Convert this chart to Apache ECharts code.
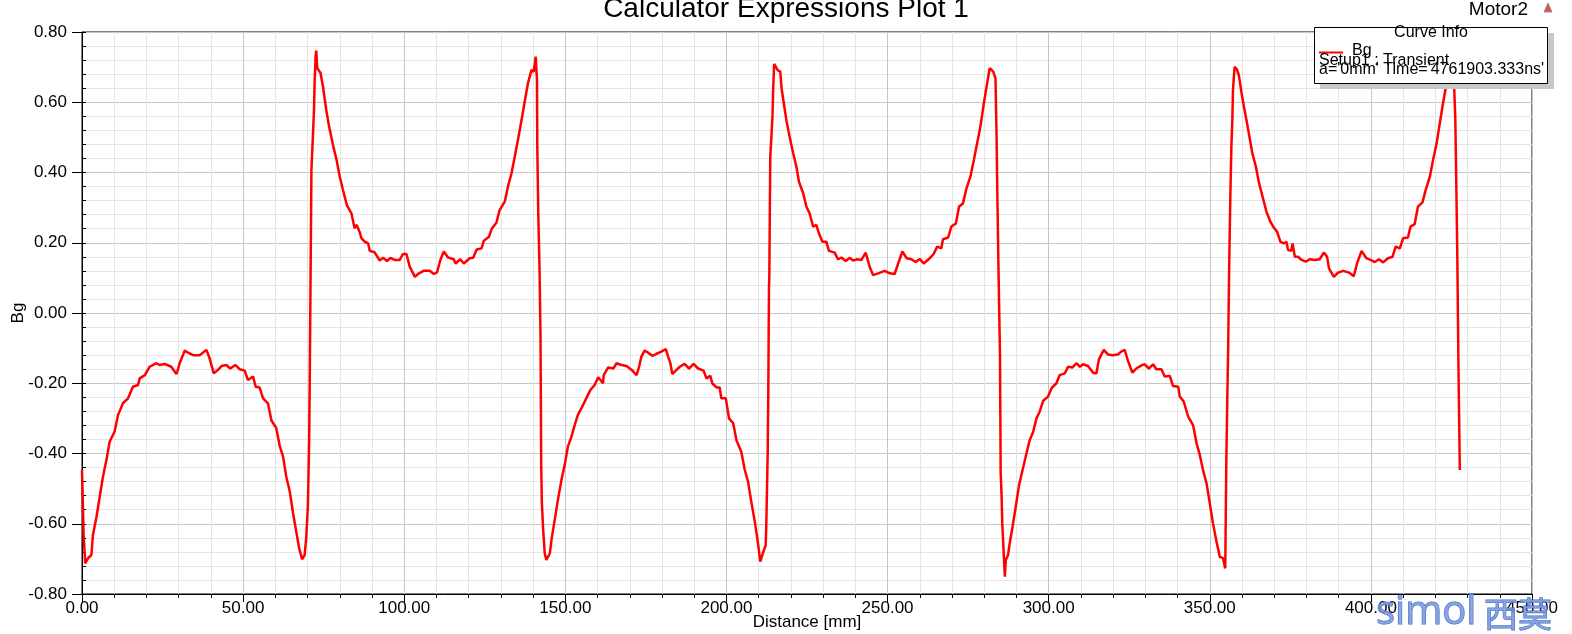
<!DOCTYPE html>
<html>
<head>
<meta charset="utf-8">
<script src="https://cdn.jsdelivr.net/npm/echarts@6/dist/echarts.min.js"></script>
<style>
  html, body { margin: 0; padding: 0; background: #fff; }
  #c { width: 1572px; height: 634px; }
</style>
</head>
<body>
<div id="c"></div>
<script>
// ---- data ----
const distanceMm = [
  0, 0.3, 0.5, 1.0, 1.9, 2.9, 3.4, 4.5, 5.5, 6.5, 7.6, 8.6, 10.1, 11.2, 12.7, 14.3, 15.8, 17.4, 17.9, 19.5,
  21.0, 23.1, 24.1, 25.7, 27.7, 29.3, 29.6, 30.3, 31.9, 32.9, 34.5, 36.5, 38.6, 39.6, 40.9, 42.2, 43.3, 44.8, 46.0, 47.6,
  48.9, 50.5, 51.5, 53.1, 53.9, 55.1, 56.2, 57.7, 58.8, 60.3, 61.4, 62.4, 63.4, 64.5, 65.5, 66.5, 67.4, 68.3, 69.1, 69.6,
  70.1, 70.5, 70.7, 70.9, 71.2, 71.7, 72.0, 72.2, 72.5, 72.7, 73.0, 74.0, 74.8, 75.8, 76.7, 77.9, 79.0, 80.0, 81.0, 82.2,
  83.6, 84.6, 85.2, 86.2, 86.7, 87.7, 88.8, 89.3, 90.8, 92.4, 93.4, 94.7, 95.7, 97.0, 98.6, 99.6, 100.7, 101.7, 103.3, 104.6,
  106.0, 107.9, 109.2, 110.2, 111.2, 112.3, 113.6, 115.4, 115.9, 117.4, 118.5, 120.3, 121.4, 122.5, 124.0, 124.7, 126.3, 127.1, 128.6, 129.6,
  131.2, 132.2, 133.3, 134.3, 135.3, 136.4, 137.4, 138.4, 139.5, 140.2, 140.8, 141.2, 141.3, 141.6, 142.0, 142.3, 142.5, 142.7, 143.1, 143.6,
  144.1, 145.2, 145.7, 146.7, 147.7, 148.8, 149.8, 150.8, 151.9, 152.9, 153.9, 155.0, 156.5, 157.8, 159.1, 160.2, 161.7, 161.9, 163.3, 164.9,
  165.9, 167.4, 169.0, 170.6, 172.1, 172.9, 173.6, 174.6, 175.7, 177.0, 178.3, 179.8, 181.2, 181.9, 182.6, 183.2, 184.5, 185.5, 187.0, 188.4,
  189.8, 191.2, 192.9, 193.8, 195.0, 195.6, 196.9, 197.9, 198.4, 199.8, 200.8, 202.1, 203.1, 204.6, 205.7, 206.7, 207.7, 208.8, 209.8, 210.5,
  211.3, 212.2, 212.4, 212.8, 213.0, 213.2, 213.3, 213.6, 213.9, 214.3, 214.5, 214.8, 215.3, 216.0, 216.7, 217.1, 217.8, 218.6, 219.6, 220.7,
  221.7, 222.5, 223.8, 224.8, 225.8, 226.9, 227.9, 228.7, 229.8, 231.0, 231.8, 233.6, 234.6, 235.7, 237.0, 238.3, 239.3, 240.6, 241.9, 243.2,
  244.5, 245.5, 247.1, 249.1, 250.7, 252.2, 253.3, 254.6, 255.9, 257.4, 258.7, 260.0, 261.2, 263.1, 264.3, 265.4, 266.7, 267.2, 268.8, 269.8,
  271.2, 272.2, 273.4, 274.5, 275.7, 276.8, 277.8, 278.8, 279.8, 280.9, 281.7, 282.8, 283.5, 283.8, 284.1, 284.4, 284.7, 284.9, 285.1, 285.4,
  285.6, 286.0, 286.4, 286.7, 287.4, 287.9, 288.8, 289.8, 290.8, 291.9, 293.1, 294.1, 295.2, 296.2, 297.2, 298.3, 299.8, 300.9, 302.4, 303.4,
  305.0, 306.0, 307.4, 308.6, 309.7, 310.7, 312.2, 313.8, 314.8, 315.6, 317.1, 318.4, 319.9, 321.5, 322.5, 323.6, 324.6, 326.0, 327.2, 328.8,
  329.8, 331.1, 332.4, 333.4, 335.0, 336.0, 337.6, 338.6, 340.2, 340.7, 341.9, 343.3, 344.8, 345.9, 346.9, 347.9, 349.0, 350.0, 351.0, 352.1,
  353.1, 354.1, 354.8, 354.9, 355.1, 355.4, 355.7, 356.0, 356.4, 356.7, 357.0, 357.2, 357.7, 358.4, 359.0, 359.8, 360.5, 361.4, 362.4, 363.2,
  364.3, 365.3, 366.5, 367.6, 368.8, 369.8, 370.9, 371.9, 372.9, 373.8, 374.3, 375.3, 375.7, 376.4, 377.4, 378.5, 379.8, 381.0, 382.6, 384.1,
  385.4, 386.4, 387.0, 388.5, 389.8, 391.4, 393.2, 394.7, 395.7, 397.1, 398.6, 400.2, 401.2, 402.5, 403.8, 405.3, 406.7, 407.7, 409.0, 410.0,
  411.5, 412.3, 413.6, 414.6, 416.0, 417.0, 418.3, 419.3, 420.4, 421.2, 422.3, 423.3, 424.2, 425.0, 425.7, 426.2, 426.5, 426.8, 427.2, 427.6
];
const bgValues = [
  -0.447, -0.555, -0.632, -0.713, -0.698, -0.689, -0.632, -0.580, -0.523, -0.466, -0.418, -0.366, -0.338, -0.290, -0.257, -0.243, -0.210, -0.205, -0.186, -0.177,
  -0.153, -0.143, -0.148, -0.145, -0.153, -0.174, -0.167, -0.143, -0.107, -0.113, -0.120, -0.120, -0.105, -0.129, -0.172, -0.162, -0.151, -0.148, -0.158, -0.148,
  -0.160, -0.164, -0.191, -0.181, -0.210, -0.212, -0.243, -0.257, -0.306, -0.328, -0.380, -0.409, -0.466, -0.509, -0.570, -0.623, -0.670, -0.701, -0.689, -0.637,
  -0.551, -0.362, -0.167, 0.065, 0.407, 0.512, 0.578, 0.659, 0.730, 0.747, 0.697, 0.684, 0.644, 0.578, 0.530, 0.478, 0.436, 0.388, 0.350, 0.307,
  0.284, 0.241, 0.251, 0.230, 0.213, 0.203, 0.198, 0.177, 0.173, 0.149, 0.157, 0.148, 0.157, 0.151, 0.151, 0.168, 0.168, 0.132, 0.103, 0.113,
  0.120, 0.120, 0.111, 0.116, 0.151, 0.175, 0.158, 0.153, 0.141, 0.153, 0.141, 0.156, 0.157, 0.181, 0.184, 0.206, 0.217, 0.239, 0.257, 0.293,
  0.317, 0.360, 0.398, 0.445, 0.493, 0.549, 0.602, 0.654, 0.692, 0.687, 0.730, 0.663, 0.473, 0.284, 0.122, -0.072, -0.423, -0.537, -0.613, -0.684,
  -0.703, -0.684, -0.646, -0.589, -0.532, -0.475, -0.433, -0.380, -0.352, -0.319, -0.290, -0.271, -0.243, -0.219, -0.205, -0.183, -0.200, -0.177, -0.155, -0.158,
  -0.143, -0.148, -0.151, -0.162, -0.177, -0.153, -0.124, -0.107, -0.113, -0.122, -0.116, -0.110, -0.103, -0.124, -0.143, -0.174, -0.162, -0.153, -0.145, -0.158,
  -0.145, -0.158, -0.164, -0.186, -0.179, -0.200, -0.212, -0.212, -0.243, -0.243, -0.300, -0.314, -0.362, -0.395, -0.447, -0.480, -0.537, -0.594, -0.656, -0.708,
  -0.684, -0.660, -0.589, -0.400, -0.214, 0.075, 0.099, 0.445, 0.493, 0.564, 0.635, 0.709, 0.706, 0.690, 0.688, 0.640, 0.597, 0.549, 0.502, 0.455,
  0.417, 0.374, 0.341, 0.303, 0.284, 0.246, 0.251, 0.227, 0.203, 0.203, 0.177, 0.172, 0.153, 0.158, 0.148, 0.157, 0.149, 0.153, 0.151, 0.172,
  0.130, 0.108, 0.113, 0.120, 0.113, 0.111, 0.141, 0.175, 0.156, 0.153, 0.145, 0.154, 0.141, 0.156, 0.168, 0.189, 0.184, 0.210, 0.215, 0.246,
  0.255, 0.303, 0.312, 0.355, 0.388, 0.436, 0.483, 0.530, 0.592, 0.654, 0.697, 0.687, 0.668, 0.521, 0.322, 0.141, -0.020, -0.124, -0.452, -0.523,
  -0.599, -0.675, -0.751, -0.703, -0.689, -0.656, -0.608, -0.551, -0.490, -0.447, -0.400, -0.362, -0.338, -0.300, -0.281, -0.250, -0.238, -0.214, -0.200, -0.177,
  -0.172, -0.153, -0.155, -0.143, -0.153, -0.146, -0.151, -0.170, -0.172, -0.132, -0.105, -0.118, -0.120, -0.118, -0.110, -0.105, -0.136, -0.170, -0.158, -0.149,
  -0.146, -0.158, -0.146, -0.160, -0.160, -0.181, -0.179, -0.208, -0.210, -0.238, -0.252, -0.295, -0.319, -0.371, -0.404, -0.447, -0.485, -0.542, -0.599, -0.651,
  -0.694, -0.698, -0.727, -0.637, -0.447, -0.262, -0.105, 0.122, 0.341, 0.473, 0.549, 0.635, 0.701, 0.694, 0.678, 0.630, 0.592, 0.549, 0.497, 0.455,
  0.417, 0.369, 0.327, 0.288, 0.260, 0.244, 0.231, 0.203, 0.198, 0.203, 0.179, 0.177, 0.198, 0.160, 0.160, 0.151, 0.146, 0.153, 0.151, 0.153,
  0.172, 0.160, 0.127, 0.103, 0.115, 0.120, 0.115, 0.105, 0.141, 0.177, 0.156, 0.150, 0.145, 0.153, 0.144, 0.156, 0.160, 0.189, 0.184, 0.213,
  0.215, 0.246, 0.253, 0.303, 0.315, 0.350, 0.388, 0.436, 0.483, 0.530, 0.592, 0.644, 0.690, 0.700, 0.680, 0.554, 0.369, 0.179, -0.172, -0.447
];
const xTicks = [0, 50, 100, 150, 200, 250, 300, 350, 400, 450];
const yTicks = [-0.8, -0.6, -0.4, -0.2, 0, 0.2, 0.4, 0.6, 0.8];
const titleText = 'Calculator Expressions Plot 1';
const projectText = 'Motor2';
const legendTitle = 'Curve Info';
const legendLines = ['Bg', 'Setup1 : Transient', "a='0mm' Time='4761903.333ns'"];

// ---- chart ----
const FONT = '"Liberation Sans", Arial, sans-serif';
const seriesData = distanceMm.map((x, i) => [x, bgValues[i]]);
const chart = echarts.init(document.getElementById('c'), null, { renderer: 'canvas' });

const option = {
  animation: false,
  backgroundColor: '#ffffff',
  grid: {
    left: 82, right: 40, top: 32, bottom: 40,
    containLabel: false, outerBoundsMode: 'none',
    show: true, borderColor: '#000000', borderWidth: 1, backgroundColor: 'transparent'
  },
  xAxis: [{
    type: 'value',
    min: xTicks[0], max: xTicks[xTicks.length - 1], interval: xTicks[1] - xTicks[0],
    name: 'Distance [mm]', nameLocation: 'middle', nameGap: 20, nameMoveOverlap: false,
    nameTextStyle: { color: '#000', fontSize: 17, fontFamily: FONT },
    axisLine: { show: true, onZero: false, lineStyle: { color: '#000', width: 1 } },
    axisTick: { show: true, inside: false, length: 8, lineStyle: { color: '#000', width: 1 } },
    minorTick: { show: true, splitNumber: 5, length: 4, lineStyle: { color: '#000', width: 1 } },
    splitLine: { show: true, lineStyle: { color: '#c6c6c6', width: 1 } },
    minorSplitLine: { show: true, lineStyle: { color: '#e5e5e5', width: 1 } },
    axisLabel: { color: '#000', fontSize: 17, fontFamily: FONT, margin: 6, formatter: v => v.toFixed(2) }
  }],
  yAxis: [{
    type: 'value', position: 'left',
    min: yTicks[0], max: yTicks[yTicks.length - 1], interval: 0.2,
    name: 'Bg', nameLocation: 'middle', nameGap: 55, nameRotate: 90, nameMoveOverlap: false,
    nameTextStyle: { color: '#000', fontSize: 17, fontFamily: FONT },
    axisLine: { show: true, onZero: false, lineStyle: { color: '#000', width: 1 } },
    axisTick: { show: true, inside: false, length: 10, lineStyle: { color: '#000', width: 1 } },
    minorTick: { show: false, splitNumber: 5 },
    splitLine: { show: true, lineStyle: { color: '#c6c6c6', width: 1 } },
    minorSplitLine: { show: true, lineStyle: { color: '#e5e5e5', width: 1 } },
    axisLabel: { color: '#000', fontSize: 17, fontFamily: FONT, margin: 15, formatter: v => v.toFixed(2) }
  }, {
    type: 'value', position: 'left', offset: 0,
    min: yTicks[0], max: yTicks[yTicks.length - 1], interval: 0.04,
    axisLine: { show: false },
    axisTick: { show: true, inside: true, length: 4, lineStyle: { color: '#000', width: 1 } },
    axisLabel: { show: false },
    splitLine: { show: false }
  }],
  series: [{
    name: 'Bg', type: 'line', data: seriesData,
    xAxisIndex: 0, yAxisIndex: 0,
    showSymbol: false, symbol: 'none',
    lineStyle: { color: '#ff0000', width: 2.5 },
    z: 3
  }],
  graphic: [
    { type: 'text', x: 786, y: 9, z: 50,
      style: { text: titleText, fill: '#000', fontSize: 28, fontFamily: FONT, align: 'center', verticalAlign: 'middle' } },
    { type: 'text', x: 1528, y: 9.5, z: 50,
      style: { text: projectText, fill: '#000', fontSize: 19, fontFamily: FONT, align: 'right', verticalAlign: 'middle' } },
    { type: 'polygon', z: 50, shape: { points: [[1548, 3], [1544, 12], [1552, 12]] },
      style: { fill: '#e05050', stroke: '#909090', lineWidth: 1 } },
    // legend box
    { type: 'rect', z: 60, shape: { x: 1320, y: 33, width: 234, height: 56 }, style: { fill: '#c8c8c8' } },
    { type: 'rect', z: 61, shape: { x: 1314.5, y: 27.5, width: 233, height: 56 },
      style: { fill: '#ffffff', stroke: '#000', lineWidth: 1 } },
    { type: 'text', x: 1431, y: 33, z: 62,
      style: { text: legendTitle, fill: '#000', fontSize: 16, fontFamily: FONT, align: 'center', verticalAlign: 'middle' } },
    { type: 'line', z: 62, shape: { x1: 1319, y1: 52.5, x2: 1343, y2: 52.5 }, style: { stroke: '#ff0000', lineWidth: 2 } },
    { type: 'text', x: 1352, y: 50.5, z: 62,
      style: { text: legendLines[0], fill: '#000', fontSize: 16, fontFamily: FONT, align: 'left', verticalAlign: 'middle' } },
    { type: 'text', x: 1319, y: 60.5, z: 62,
      style: { text: legendLines[1], fill: '#000', fontSize: 16, fontFamily: FONT, align: 'left', verticalAlign: 'middle' } },
    { type: 'text', x: 1319, y: 70, z: 62,
      style: { text: legendLines[2], fill: '#000', fontSize: 16, fontFamily: FONT, align: 'left', verticalAlign: 'middle' } },
    // watermark
    { type: 'text', x: 1376, y: 613, z: 70,
      style: { text: 'simol', fill: 'rgba(120,150,220,0.85)', stroke: '#4a70c8', lineWidth: 1, fontSize: 40, fontFamily: '"Open Sans", sans-serif', align: 'left', verticalAlign: 'middle' } },
    { type: 'text', x: 1484, y: 614, z: 70,
      style: { text: '西莫', fill: 'rgba(120,150,220,0.85)', stroke: '#4a70c8', lineWidth: 1, fontSize: 34, fontFamily: '"Noto Sans CJK SC", sans-serif', align: 'left', verticalAlign: 'middle' } }
  ]
};
chart.setOption(option);
</script>
</body>
</html>
